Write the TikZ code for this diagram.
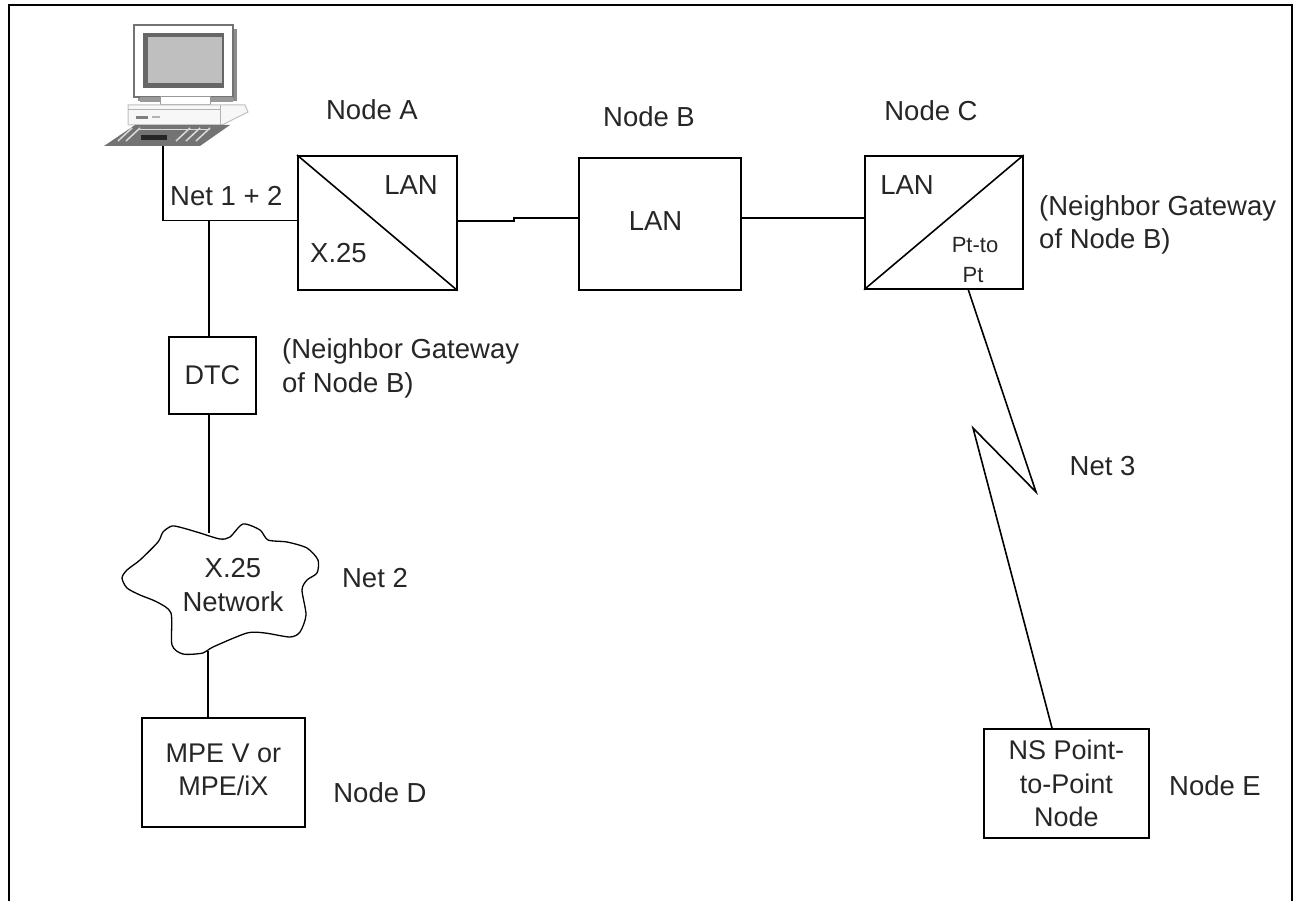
\documentclass[tikz,border=0pt]{standalone}
\usepackage{fontspec}
\setmainfont{Liberation Sans}
\tikzset{
	boxnode/.style={draw,line width=1.7pt,inner sep=0pt,anchor=north west,align=center,text=black!85,font=\fontsize{27}{33.5}\selectfont},
	textnode/.style={inner sep=0pt,align=left,text=black!85,font=\fontsize{27.5}{33.5}\selectfont},
	smalltext/.style={inner sep=0pt,text=black!85,font=\fontsize{22}{25}\selectfont},
	wire/.style={line width=1.6pt},
}
\begin{document}
\begin{tikzpicture}[x=1pt,y=-1pt]
	\useasboundingbox (0,0) rectangle (1293,901);
	% outer frame, open at the bottom
	\draw [line width=2pt] (9,901) -- (9,5) -- (1292,5) -- (1292,901);
	% computer
	\fill [black!45] (138,29) rectangle (237,101);
	\draw [black!55,fill=white,line width=1.5pt] (134,25) rectangle (233,97);
	\fill [black!60] (143,33) rectangle (224,88);
	\fill [black!25] (148,37) rectangle (222,83);
	\fill [black!40] (140,97) rectangle (233,102);
	\draw [black!40,fill=white,line width=1pt] (160,97) rectangle (210,105);
	\draw [black!25,fill=black!3,line width=1pt] (128,105) -- (245,105) -- (248,112) -- (222,125) -- (128,125) -- cycle;
	\draw [black!30,line width=1pt] (128,110) -- (220,110) (220,105) -- (220,125);
	\fill [black!50] (136,116) rectangle (148,119);
	\fill [black!30] (152,116) rectangle (160,118);
	\fill [black!55] (104,146) -- (135,125) -- (230,125) -- (200,146) -- cycle;
	\foreach \xa in {118,126,176,186,196}
		\draw [white!85!black,line width=1.5pt] (\xa,141) -- (\xa+14,128);
	\draw [white!85!black,line width=1pt] (138,130) -- (210,130);
	\fill [black!85] (141,135) rectangle (167,140);
	\coordinate (pc) at (163,146);
	% nodes
	\node [boxnode,minimum width=159pt,minimum height=134pt] (nodeA) at (297,155) {};
	\node [boxnode,minimum width=162pt,minimum height=132pt] (nodeB) at (578,157) {};
	\node [boxnode,minimum width=158pt,minimum height=133pt] (nodeC) at (864,155) {};
	\node [boxnode,minimum width=87pt,minimum height=77pt] (dtc) at (168,336) {DTC};
	\node [boxnode,minimum width=163pt,minimum height=109pt] (nodeD) at (141,717) {MPE V or\\MPE/iX\\[-28pt]\mbox{}};
	\node [boxnode,minimum width=165pt,minimum height=109pt] (nodeE) at (983,728) {NS Point-\\to-Point\\Node};
	\draw [wire] (nodeA.north west) -- (nodeA.south east);
	\draw [wire] (nodeC.south west) -- (nodeC.north east);
	% cloud
	\draw [line width=1.3pt] plot [smooth cycle,tension=0.45] coordinates {
		(200,533) (183,528) (172,526) (163,532) (158,542) (140,560) (127,570) (122,578)
		(127,588) (140,595) (157,602) (171,613) (172,645) (183,654) (203,653) (213,647)
		(247,633) (265,633) (290,637) (300,632) (306,615) (302,590) (307,580) (317,573)
		(318,560) (307,548) (287,542) (268,540) (260,530) (243,524) (230,537) (220,539)};
	\coordinate (cloudtop) at (208,533);
	\coordinate (cloudbot) at (208,651);
	\node [textnode,align=center] (cloudtext) at (233,585) {X.25\\Network};
	% connectors
	\coordinate (corner) at (163,220.5);
	\coordinate (branch) at (209,220.5);
	\coordinate (jogA) at (514,221);
	\coordinate (jogB) at (514,218);
	\coordinate (boltC) at (968,289);
	\coordinate (boltR) at (1036,492);
	\coordinate (boltL) at (973,428);
	\coordinate (boltE) at (1052,728);
	\draw [wire] (pc) -- (corner) -- (corner -| nodeA.west);
	\draw [wire] (branch) -- (branch |- dtc.north);
	\draw [wire] (branch |- dtc.south) -- (branch |- cloudtop);
	\draw [wire] (cloudbot) -- (cloudbot |- nodeD.north);
	\draw [wire] (nodeA.east |- jogA) -- (jogA) -- (jogB) -- (nodeB.west |- jogB);
	\draw [wire] (nodeB.east |- jogB) -- (nodeC.west |- jogB);
	\draw [wire] (boltC) -- (boltR) -- (boltL) -- (boltE);
	% labels
	\node [textnode] (labelA) at (372,110) {Node A};
	\node [textnode] (labelB) at (649,117) {Node B};
	\node [textnode] (labelC) at (931,111) {Node C};
	\node [textnode] (lanA) at (411,185) {LAN};
	\node [textnode] (xA) at (338.5,253) {X.25};
	\node [textnode] (lanB) at (655.5,221) {LAN};
	\node [textnode] (lanC) at (907,185) {LAN};
	\node [smalltext] (ptto) at (975,245) {Pt-to};
	\node [smalltext] (pt) at (973,275) {Pt};
	\node [textnode,anchor=west] (net12) at (170,196) {Net 1 + 2};
	\node [textnode,anchor=west] (gateC) at (1039,225) {(Neighbor Gateway\\of Node B)};
	\node [textnode,anchor=west] (gateD) at (282,368.5) {(Neighbor Gateway\\of Node B)};
	\node [textnode] (net3) at (1102.5,466) {Net 3};
	\node [textnode] (net2) at (375,578) {Net 2};
	\node [textnode] (labelD) at (380,793) {Node D};
	\node [textnode] (labelE) at (1215,786) {Node E};
\end{tikzpicture}
\end{document}
